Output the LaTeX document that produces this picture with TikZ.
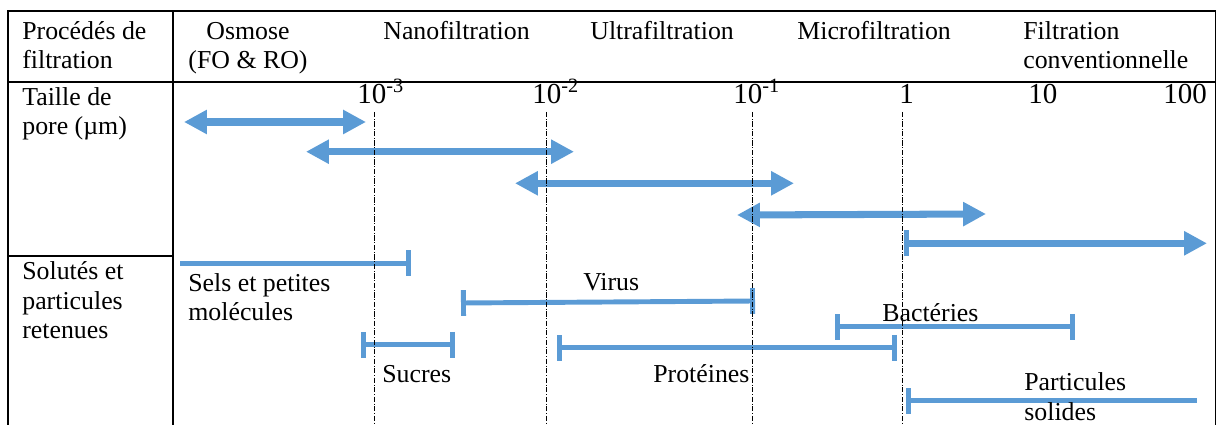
\documentclass[tikz,border=0pt]{standalone}
\usepackage{fontspec}
\setmainfont{Liberation Serif}
\usetikzlibrary{arrows.meta}
\definecolor{barblue}{HTML}{5B9BD5}

\begin{document}
\begin{tikzpicture}[x=0.02cm, y=-0.02cm, font=\fontsize{14.7}{17}\selectfont,
	grid/.style={line width=1.1pt},
	guide/.style={densely dashdotted, line width=0.5pt},
	txt/.style={anchor=base west, inner sep=0pt, align=left},
	num/.style={anchor=base west, inner sep=0pt, font=\fontsize{16.5}{19}\selectfont},
	pore/.style={barblue, line width=4pt},
	solute/.style={barblue, line width=2.8pt},
	>={Triangle[length=13pt,width=13pt]},
	tick/.tip={Bar[width=14.7pt,line width=2.8pt]}]
	\useasboundingbox (0,0) rectangle (1217,425);
	% table
	\draw[grid] (8,425) -- (8,11) -- (1215.5,11) -- (1215.5,425);
	\draw[grid] (8,81.7) -- (1215.5,81.7);
	\draw[grid] (173,11) -- (173,425);
	\draw[grid] (8,256) -- (173,256);
	
	% headings (base = last line)
	\node[txt] (proc) at (22,69) {Procédés de\\filtration};
	\node[anchor=base, inner sep=0pt, align=center] (osmo) at (248,69) {Osmose\\(FO \& RO)};
	\node[txt] (nano) at (383,40) {Nanofiltration};
	\node[txt] (ultra) at (590,40) {Ultrafiltration};
	\node[txt] (micro) at (797,40) {Microfiltration};
	\node[txt] (conv) at (1023,69) {Filtration\\conventionnelle};
	\node[txt] (taille) at (22,135) {Taille de\\pore (µm)};
	\node[txt] (solut) at (22,339) {Solutés et\\particules\\retenues};
	
	% pore sizes
	\node[num] (em3) at (357,104) {10\textsuperscript{-3}};
	\node[num] (em2) at (532,104) {10\textsuperscript{-2}};
	\node[num] (em1) at (733,104) {10\textsuperscript{-1}};
	\node[num] (one) at (899,104) {1};
	\node[num] (ten) at (1028,104) {10};
	\node[num] (hundred) at (1163,104) {100};
	
	\foreach \xa/\ya/\xb/\yb in {184/122/366/122, 306/151.7/574/151.7,
		515/183.3/794/183.3, 737/215/986/214}
	\draw[pore, <->] (\xa,\ya) -- (\xb,\yb);
	\draw[pore, tick->] (904,243.3) -- (1207,243.3);
	
	% solutes
	\draw[solute, -tick] (180,263.3) -- (411,263.3);
	\node[txt] (sels) at (188,321) {Sels et petites\\molécules};
	\draw[solute, tick-tick] (461,303) -- (755,301);
	\node[txt] (virus) at (583,290.7) {Virus};
	\draw[solute, tick-tick] (360.7,344.7) -- (455,344.7);
	\node[txt] (sucres) at (382,382.7) {Sucres};
	\draw[solute, tick-tick] (556.7,347.7) -- (897,347.7);
	\node[txt] (prot) at (653,382.7) {Protéines};
	\draw[solute, tick-tick] (835,326.7) -- (1075,326.7);
	\node[txt] (bact) at (882,321.7) {Bactéries};
	\draw[solute, tick-] (906,400.7) -- (1196.7,400.7);
	\node[txt] (part) at (1024,420) {Particules\\solides};
	
	\foreach \x in {374,546.5,752.5,902.5}
	\draw[guide] (\x,112) -- (\x,425);
\end{tikzpicture}
\end{document}
